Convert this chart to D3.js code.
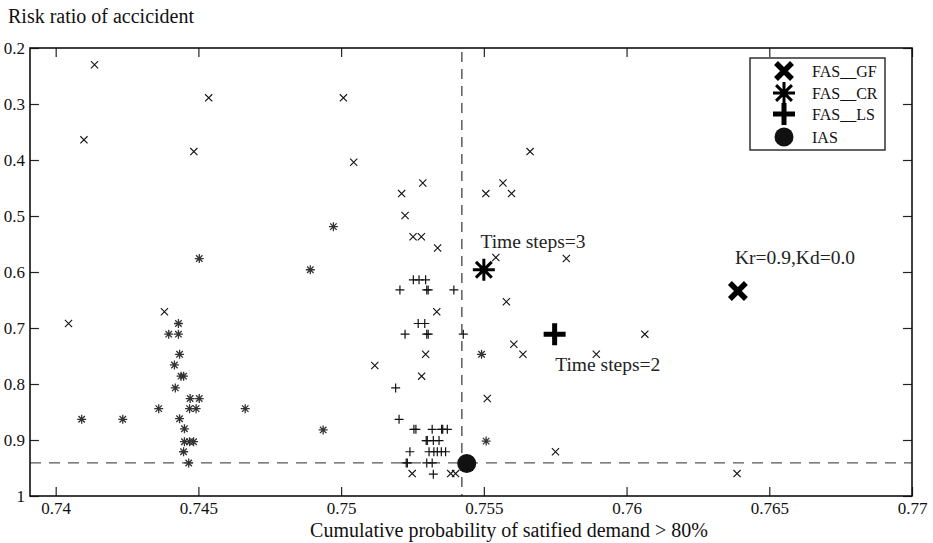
<!DOCTYPE html>
<html>
<head>
<meta charset="utf-8">
<script src="https://cdn.jsdelivr.net/npm/d3@7"></script>
<style>
  body { margin: 0; background: #fff; }
  svg { display: block; font-family: "Liberation Serif", "Times New Roman", serif; }
</style>
</head>
<body>
<svg id="chart" width="933" height="543"></svg>
<script>
// Data
const xTicks = [0.74, 0.745, 0.75, 0.755, 0.76, 0.765, 0.77];
const yTicks = [0.2, 0.3, 0.4, 0.5, 0.6, 0.7, 0.8, 0.9, 1];

// FAS__GF small markers (x)
const gfX = [0.74136, 0.74099, 0.74484, 0.74536, 0.74045, 0.74381, 0.75008, 0.75044, 0.75286, 0.75212,
             0.75662, 0.75567, 0.75507, 0.75597, 0.75224, 0.75252, 0.75281, 0.75338, 0.75542, 0.75789,
             0.75579, 0.75335, 0.75605, 0.75637, 0.75894, 0.75296, 0.75118, 0.75282, 0.75512, 0.75751,
             0.75249, 0.75384, 0.75401, 0.76387, 0.76064];
const gfY = [0.230, 0.364, 0.385, 0.289, 0.692, 0.671, 0.289, 0.404, 0.441, 0.460,
             0.385, 0.441, 0.460, 0.460, 0.499, 0.537, 0.537, 0.557, 0.574, 0.576,
             0.653, 0.671, 0.729, 0.747, 0.747, 0.747, 0.767, 0.786, 0.826, 0.921,
             0.960, 0.960, 0.960, 0.960, 0.711];

// FAS__CR small markers (asterisk)
const crX = [0.74430, 0.74396, 0.74430, 0.74434, 0.74416, 0.74439, 0.74448, 0.74419, 0.74471, 0.74503,
             0.74361, 0.74469, 0.74492, 0.74664, 0.74434, 0.74451, 0.74451, 0.74469, 0.74483, 0.74448,
             0.74466, 0.74503, 0.74892, 0.74091, 0.74235, 0.74973, 0.74937, 0.75492, 0.75508];
const crY = [0.692, 0.711, 0.711, 0.747, 0.766, 0.786, 0.786, 0.807, 0.826, 0.826,
             0.844, 0.844, 0.844, 0.844, 0.862, 0.880, 0.903, 0.903, 0.903, 0.921,
             0.941, 0.576, 0.596, 0.863, 0.863, 0.519, 0.882, 0.747, 0.902];

// FAS__LS small markers (plus)
const lsX = [0.75253, 0.75273, 0.75296, 0.75206, 0.75300, 0.75305, 0.75395, 0.75270, 0.75293, 0.75224,
             0.75300, 0.75305, 0.75428, 0.75191, 0.75203, 0.75255, 0.75262, 0.75319, 0.75352, 0.75356,
             0.75372, 0.75298, 0.75302, 0.75323, 0.75343, 0.75241, 0.75308, 0.75325, 0.75337, 0.75351,
             0.75366, 0.75228, 0.75232, 0.75300, 0.75319, 0.75323];
const lsY = [0.614, 0.614, 0.614, 0.632, 0.632, 0.632, 0.632, 0.692, 0.692, 0.711,
             0.711, 0.711, 0.711, 0.807, 0.863, 0.881, 0.881, 0.881, 0.881, 0.881,
             0.881, 0.901, 0.901, 0.901, 0.901, 0.921, 0.921, 0.921, 0.921, 0.921,
             0.921, 0.941, 0.941, 0.941, 0.941, 0.961];

// Highlighted solutions
const bigNames = ['FAS__GF', 'FAS__CR', 'FAS__LS', 'IAS'];
const bigX = [0.7639, 0.7550, 0.75748, 0.7544];
const bigY = [0.634, 0.596, 0.711, 0.942];

// Reference (IAS) dashed lines
const refX = 0.75423;
const refY = 0.941;

const annotations = [
    { text: 'Time steps=3', x: 0.75488, y: 0.557 },
    { text: 'Time steps=2', x: 0.75750, y: 0.776 },
    { text: 'Kr=0.9,Kd=0.0', x: 0.76380, y: 0.585 }
];

// Layout
const plot = { left: 30, right: 912, top: 48, bottom: 496 };

const svg = d3.select('#chart');
const x = d3.scaleLinear().domain([0.7391, 0.77]).range([plot.left, plot.right]);
const y = d3.scaleLinear().domain([0.2, 1]).range([plot.top, plot.bottom]);
const fmt = d3.format('~g');

// Marker path generators
function xPath(s) {
    return `M${-s},${-s}L${s},${s}M${-s},${s}L${s},${-s}`;
}
function plusPath(s) {
    return `M${-s},0L${s},0M0,${-s}L0,${s}`;
}
function starPath(s) {
    const d = s * 0.72;
    return plusPath(s) + `M${-d},${-d}L${d},${d}M${-d},${d}L${d},${-d}`;
}

// Dashed reference lines
svg.append('line')
    .attr('x1', x(refX)).attr('x2', x(refX))
    .attr('y1', plot.top + 4).attr('y2', plot.bottom)
    .attr('stroke', '#333').attr('stroke-width', 1.2)
    .attr('stroke-dasharray', '10,7');
svg.append('line')
    .attr('x1', plot.left).attr('x2', plot.right)
    .attr('y1', y(refY)).attr('y2', y(refY))
    .attr('stroke', '#555').attr('stroke-width', 1.2)
    .attr('stroke-dasharray', '11,8');

// Axes with inward ticks
const axisFont = g => g.selectAll('text')
    .attr('font-family', '"Liberation Serif", serif')
    .attr('font-size', 17)
    .attr('fill', '#111');

svg.append('g')
    .attr('transform', `translate(0,${plot.bottom})`)
    .call(d3.axisBottom(x).tickValues(xTicks).tickFormat(fmt).tickSize(-9).tickPadding(6))
    .call(g => g.select('.domain').remove())
    .call(axisFont);
svg.append('g')
    .attr('transform', `translate(0,${plot.top})`)
    .call(d3.axisTop(x).tickValues(xTicks).tickFormat('').tickSize(-9))
    .call(g => g.select('.domain').remove());
svg.append('g')
    .attr('transform', `translate(${plot.left},0)`)
    .call(d3.axisLeft(y).tickValues(yTicks).tickFormat(fmt).tickSize(-9).tickPadding(5))
    .call(g => g.select('.domain').remove())
    .call(axisFont);
svg.append('g')
    .attr('transform', `translate(${plot.right},0)`)
    .call(d3.axisRight(y).tickValues(yTicks).tickFormat('').tickSize(-9))
    .call(g => g.select('.domain').remove());

svg.selectAll('.tick line').attr('stroke', '#222').attr('stroke-width', 1.2);

svg.append('rect')
    .attr('x', plot.left).attr('y', plot.top)
    .attr('width', plot.right - plot.left).attr('height', plot.bottom - plot.top)
    .attr('fill', 'none').attr('stroke', '#111').attr('stroke-width', 1.6);

// Small markers
const pts = g => g.attr('fill', 'none').attr('stroke-linecap', 'butt');

svg.append('g').call(pts)
    .selectAll('path').data(d3.range(gfX.length)).join('path')
    .attr('transform', i => `translate(${x(gfX[i])},${y(gfY[i])})`)
    .attr('d', xPath(3.6))
    .attr('stroke', '#111').attr('stroke-width', 1.1);

svg.append('g').call(pts)
    .selectAll('path').data(d3.range(crX.length)).join('path')
    .attr('transform', i => `translate(${x(crX[i])},${y(crY[i])})`)
    .attr('d', starPath(4.5))
    .attr('stroke', '#333').attr('stroke-width', 1.3);

svg.append('g').call(pts)
    .selectAll('path').data(d3.range(lsX.length)).join('path')
    .attr('transform', i => `translate(${x(lsX[i])},${y(lsY[i])})`)
    .attr('d', plusPath(4.5))
    .attr('stroke', '#111').attr('stroke-width', 1.2);

// Big markers, also used for the legend
function drawBig(g, name, cx, cy, scale) {
    const k = scale || 1;
    const t = `translate(${cx},${cy})`;
    if (name === 'FAS__GF') {
        g.append('path').attr('transform', t).attr('d', xPath(8 * k))
            .attr('stroke', '#000').attr('stroke-width', 5.5 * k).attr('fill', 'none');
    } else if (name === 'FAS__CR') {
        g.append('path').attr('transform', t).attr('d', starPath(11 * k))
            .attr('stroke', '#000').attr('stroke-width', 3 * k).attr('fill', 'none');
    } else if (name === 'FAS__LS') {
        g.append('path').attr('transform', t).attr('d', plusPath(11 * k))
            .attr('stroke', '#000').attr('stroke-width', 5 * k).attr('fill', 'none');
    } else {
        g.append('circle').attr('cx', cx).attr('cy', cy).attr('r', 9.5 * k).attr('fill', '#111');
    }
}

const bigG = svg.append('g');
bigNames.forEach((n, i) => drawBig(bigG, n, x(bigX[i]), y(bigY[i])));

// Annotations
svg.append('g')
    .selectAll('text').data(annotations).join('text')
    .attr('x', d => x(d.x)).attr('y', d => y(d.y))
    .attr('font-size', 19.5).attr('fill', '#222')
    .text(d => d.text);

// Legend
const legend = svg.append('g');
legend.append('rect')
    .attr('x', 750).attr('y', 58).attr('width', 135).attr('height', 92)
    .attr('fill', '#fff').attr('stroke', '#111').attr('stroke-width', 1.3);
const legendY = [71, 93, 114, 137];
bigNames.forEach((n, i) => {
    drawBig(legend, n, 784, legendY[i], 1);
    legend.append('text')
        .attr('x', 812).attr('y', legendY[i] + 6)
        .attr('font-size', 16).attr('fill', '#111')
        .text(n);
});

// Axis titles
svg.append('text')
    .attr('x', 8).attr('y', 23)
    .attr('font-size', 20).attr('fill', '#111')
    .text('Risk ratio of accicident');
svg.append('text')
    .attr('x', 509).attr('y', 537)
    .attr('text-anchor', 'middle')
    .attr('font-size', 20).attr('fill', '#111')
    .text('Cumulative probability of satified demand > 80%');
</script>
</body>
</html>
